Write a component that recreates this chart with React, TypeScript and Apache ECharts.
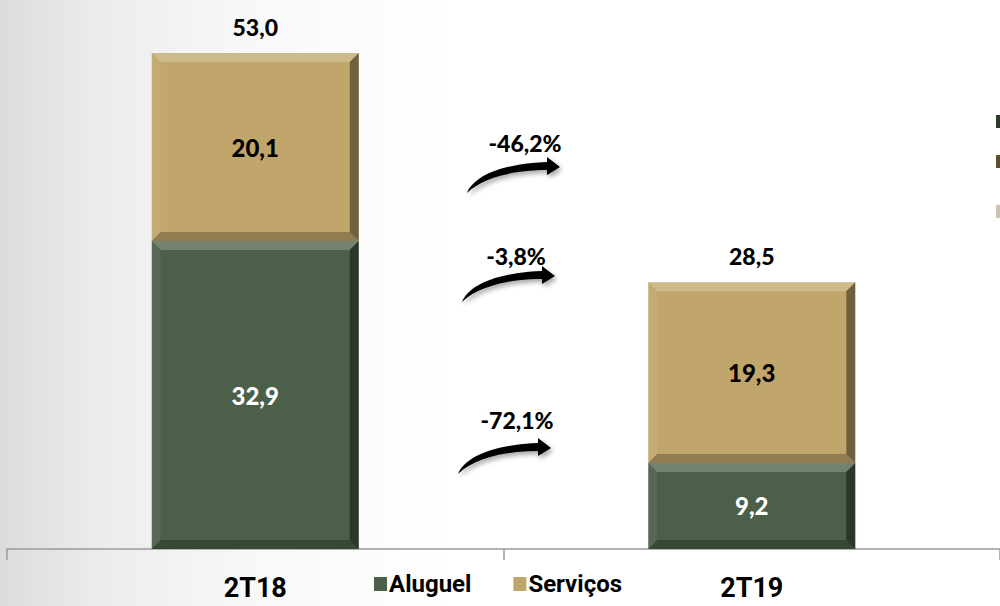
import React, { useEffect, useRef } from "react";
import * as echarts from "echarts";

const categories = ["2T18", "2T19"];
const aluguel = [32.9, 9.2];
const servicos = [20.1, 19.3];
const totals = [53.0, 28.5];
const changes = ["-46,2%", "-3,8%", "-72,1%"];
const seriesNames = ["Aluguel", "Serviços"];

const GREEN = "#4c5f49";
const TAN = "#c0a66b";
const NUM_FONT = "Lato, 'DejaVu Sans', sans-serif";
const NARROW_FONT = "Roboto, 'Liberation Sans Narrow', sans-serif";

const fmt = (v: number) => v.toFixed(1).replace(".", ",");

echarts.graphic.registerShape(
  "curveArrow",
  echarts.graphic.extendPath(
    "M0,35 C6,20 30,6 80,4 L80,-1 L93,9 L80,17 L80,12 C45,12 15,20 0,35 Z",
    {}
  )
);

export default function App() {
  const ref = useRef<HTMLDivElement>(null);

  useEffect(() => {
    if (!ref.current) return;
    const chart = echarts.init(ref.current, null, { renderer: "svg" });

    const segments: number[][] = [];
    categories.forEach((_, i) => {
      segments.push([i, 0, aluguel[i]]);
      segments.push([i, aluguel[i], aluguel[i] + servicos[i]]);
    });
    const totalData = categories.map((_, i) => [i, totals[i]]);

    const barW = 207;
    const bev = 9;

    const arrowDefs = [
      { x: 467, y: 158, tx: 525, ty: 143 },
      { x: 462, y: 267, tx: 516, ty: 256 },
      { x: 458, y: 439, tx: 517, ty: 420 },
    ];

    const graphics: any[] = [];
    arrowDefs.forEach((a, i) => {
      graphics.push({
        type: "curveArrow",
        x: a.x,
        y: a.y,
        scaleX: 1,
        scaleY: 1,
        style: {
          fill: "#000",
          shadowBlur: 5,
          shadowColor: "rgba(0,0,0,0.35)",
          shadowOffsetX: 2,
          shadowOffsetY: 3,
        },
        silent: true,
      });
      graphics.push({
        type: "text",
        x: a.tx,
        y: a.ty,
        style: {
          text: changes[i],
          fill: "#000",
          font: `900 23px ${NUM_FONT}`,
          align: "center",
          verticalAlign: "middle",
        },
      });
    });
    const sideMarks = [
      { y: 115, c: "#2d3a2a" },
      { y: 155, c: "#5a5030" },
      { y: 205, c: "#cbc3b3" },
    ];
    sideMarks.forEach((m) => {
      graphics.push({
        type: "rect",
        shape: { x: 996, y: m.y, width: 4, height: 13 },
        style: { fill: m.c },
        silent: true,
      });
    });

    chart.setOption({
      animation: false,
      grid: { left: 7, right: -1, top: 53, bottom: 57, containLabel: false },
      legend: {
        data: seriesNames,
        left: 369,
        top: 567,
        itemWidth: 13,
        itemHeight: 14,
        itemGap: 42,
        icon: "rect",
        textStyle: {
          fontSize: 24,
          fontWeight: "bold",
          fontFamily: NARROW_FONT,
          color: "#000",
          padding: [0, 0, 0, -3],
        },
      },
      xAxis: {
        type: "category",
        data: categories,
        axisLine: { lineStyle: { color: "#9a9a9a", width: 1.5 } },
        axisTick: { show: true, length: 11, lineStyle: { color: "#9a9a9a", width: 1.5 } },
        axisLabel: {
          fontSize: 27,
          fontWeight: "bold",
          fontFamily: NARROW_FONT,
          color: "#000",
          margin: 25,
        },
      },
      yAxis: {
        type: "value",
        min: 0,
        max: 53,
        show: false,
        splitLine: { show: false },
      },
      series: [
        {
          name: seriesNames[0],
          type: "bar",
          stack: "total",
          barWidth: barW,
          data: aluguel,
          itemStyle: { color: GREEN },
          label: {
            show: true,
            position: "inside",
            formatter: (p: any) => fmt(p.value),
            color: "#fff",
            fontSize: 24,
            fontWeight: 900,
            fontFamily: NUM_FONT,
          },
        },
        {
          name: seriesNames[1],
          type: "bar",
          stack: "total",
          barWidth: barW,
          data: servicos,
          itemStyle: { color: TAN },
          label: {
            show: true,
            position: "inside",
            formatter: (p: any) => fmt(p.value),
            color: "#000",
            fontSize: 24,
            fontWeight: 900,
            fontFamily: NUM_FONT,
          },
        },
        {
          type: "custom",
          silent: true,
          z: 5,
          data: segments,
          encode: { x: 0, y: [1, 2] },
          renderItem: (params: any, api: any) => {
            const ci = api.value(0);
            const lo = api.value(1);
            const hi = api.value(2);
            const pt = api.coord([ci, hi]);
            const pb = api.coord([ci, lo]);
            const x0 = pt[0] - barW / 2;
            const x1 = pt[0] + barW / 2;
            const y0 = pt[1];
            const y1 = pb[1];
            const b = bev;
            return {
              type: "group",
              children: [
                {
                  type: "polygon",
                  shape: { points: [[x0, y0], [x1, y0], [x1 - b, y0 + b], [x0 + b, y0 + b]] },
                  style: { fill: "rgba(255,255,255,0.22)" },
                },
                {
                  type: "polygon",
                  shape: { points: [[x1, y0], [x1, y1], [x1 - b, y1 - b], [x1 - b, y0 + b]] },
                  style: { fill: "rgba(0,0,0,0.42)" },
                },
                {
                  type: "polygon",
                  shape: { points: [[x0, y1], [x1, y1], [x1 - b, y1 - b], [x0 + b, y1 - b]] },
                  style: { fill: "rgba(0,0,0,0.25)" },
                },
                {
                  type: "polygon",
                  shape: { points: [[x0, y0], [x0, y1], [x0 + b, y1 - b], [x0 + b, y0 + b]] },
                  style: { fill: "rgba(255,255,255,0.06)" },
                },
              ],
            };
          },
        },
        {
          type: "custom",
          silent: true,
          z: 6,
          clip: false,
          data: totalData,
          encode: { x: 0, y: 1 },
          renderItem: (params: any, api: any) => {
            const p = api.coord([api.value(0), api.value(1)]);
            return {
              type: "text",
              x: p[0],
              y: p[1] - 26,
              style: {
                text: fmt(api.value(1)),
                fill: "#000",
                font: `900 23px ${NUM_FONT}`,
                align: "center",
                verticalAlign: "middle",
              },
            };
          },
        },
      ],
      graphic: graphics,
    });

    return () => chart.dispose();
  }, []);

  return (
    <div
      style={{
        position: "fixed",
        left: 0,
        top: 0,
        width: 1000,
        height: 606,
        background:
          "linear-gradient(90deg, #dcdcdc 0%, #ececec 10%, #f8f8f8 25%, #ffffff 45%, #ffffff 100%)",
      }}
    >
      <div ref={ref} style={{ width: 1000, height: 606 }} />
    </div>
  );
}
